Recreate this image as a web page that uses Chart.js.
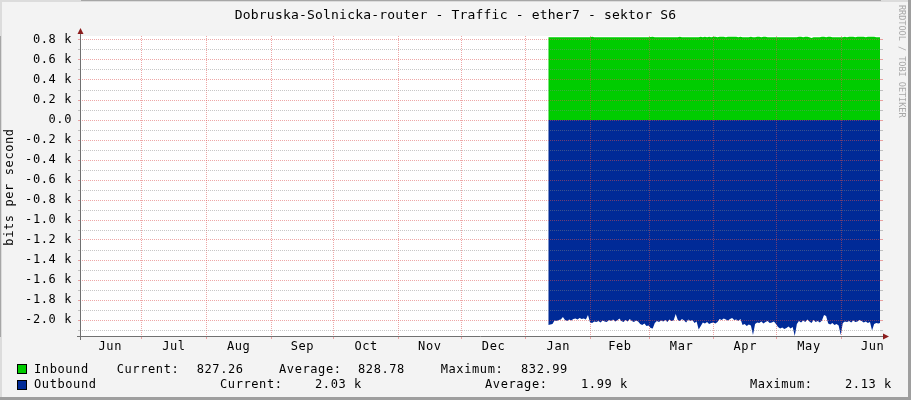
<!DOCTYPE html>
<html>
<head>
<meta charset="utf-8">
<script src="https://cdn.jsdelivr.net/npm/chart.js@4.4.1/dist/chart.umd.min.js"></script>
<style>
html, body { margin: 0; padding: 0; background: #f3f3f3; }
#wrap { width: 911px; height: 400px; position: relative; }
</style>
</head>
<body>
<div id="wrap"><canvas id="trafficChart"></canvas></div>
<script>
// month labels along the x axis, and where each month starts (days after Jun 2)
var monthLabels = ['Jun', 'Jul', 'Aug', 'Sep', 'Oct', 'Nov', 'Dec', 'Jan', 'Feb', 'Mar', 'Apr', 'May', 'Jun'];
var monthStarts = [-1, 29, 60, 91, 121, 152, 182, 213, 244, 272, 303, 333, 364];
var monthDays = [30, 31, 31, 30, 31, 30, 31, 31, 28, 31, 30, 31, 30];

// y axis ticks (bits per second)
var yTickValues = [-2000, -1800, -1600, -1400, -1200, -1000, -800, -600, -400, -200, 0, 200, 400, 600, 800];
var yTickLabels = ['-2.0 k', '-1.8 k', '-1.6 k', '-1.4 k', '-1.2 k', '-1.0 k', '-0.8 k', '-0.6 k', '-0.4 k', '-0.2 k', '0.0', '0.2 k', '0.4 k', '0.6 k', '0.8 k'];

// first sample (Jan 12), one sample per day
var sampleStartDay = 223.7;

var inbound = [
  828, 827, 828, 827, 828, 828, 827, 828, 827, 828,
  828, 827, 828, 827, 828, 828, 827, 828, 827, 828,
  828, 833, 828, 827, 828, 828, 827, 828, 827, 828,
  828, 827, 828, 827, 828, 828, 827, 828, 827, 828,
  828, 827, 828, 827, 828, 828, 827, 828, 827, 829,
  833, 827, 828, 827, 828, 828, 827, 828, 827, 828,
  828, 827, 828, 833, 828, 828, 827, 828, 827, 828,
  828, 827, 828, 833, 828, 833, 827, 833, 828, 833,
  833, 828, 833, 833, 833, 828, 833, 833, 833, 833,
  833, 828, 833, 827, 828, 828, 827, 833, 827, 828,
  833, 833, 828, 833, 833, 828, 827, 828, 827, 828,
  828, 827, 828, 827, 828, 828, 827, 828, 827, 828,
  833, 833, 828, 833, 833, 828, 820, 828, 827, 828,
  828, 833, 833, 828, 833, 833, 828, 828, 827, 828,
  828, 827, 833, 828, 833, 833, 833, 828, 833, 833,
  833, 833, 828, 833, 833, 833, 833, 828, 827, 827
];

var outbound = [
  2050, 2045, 2040, 2005, 2010, 2000, 1995, 1970, 2000, 2010,
  1995, 2005, 1990, 1985, 1995, 1980, 1990, 1985, 1995, 1950,
  2025, 2030, 2015, 2020, 2010, 2025, 2005, 2015, 2020, 2000,
  2010, 1995, 2015, 2005, 1985, 2010, 2020, 2000, 2015, 1990,
  2010, 2020, 2005, 2015, 2040, 2050, 2035, 2060, 2055, 2080,
  2085, 2030, 2010, 2020, 2005, 2015, 2000, 2020, 1995, 2010,
  2005, 1940, 2000, 2010, 1990, 2005, 2025, 1995, 2010, 2000,
  2030, 2015, 2095, 2060, 2025, 2035, 2020, 2040, 2030, 2025,
  2035, 2020, 1990, 2000, 1985, 1995, 2005, 1990, 1980, 2000,
  1995, 2010, 1990, 2050, 2040, 2060, 2045, 2055, 2150, 2040,
  2025, 2030, 2015, 2035, 2020, 2010, 2030, 2025, 2015, 2040,
  2070, 2085, 2075, 2090, 2080, 2065, 2085, 2070, 2160, 2040,
  2010, 2025, 2005, 2020, 1995, 2015, 2030, 2000, 2020, 2010,
  2025, 2005, 1950, 1960, 2035, 2045, 2030, 2050, 2040, 2055,
  2150, 2030, 2015, 2020, 2010, 2025, 2005, 2020, 2015, 2000,
  2010, 2025, 2015, 2030, 2020, 2105, 2040, 2030, 2035, 2030
];

var seriesNames = ['Inbound', 'Outbound'];
var statCurrent = ['827.26', '2.03 k'];
var statAverage = ['828.78', '1.99 k'];
var statMaximum = ['832.99', '2.13 k'];

var titleText = 'Dobruska-Solnicka-router - Traffic - ether7 - sektor S6';
var yTitle = 'bits per second';
var watermark = 'RRDTOOL / TOBI OETIKER';

var MONO = "'DejaVu Sans Mono', 'Liberation Mono', monospace";
var inColor = '#00cc00';
var outColor = '#002a97';
var majorGrid = 'rgba(222, 80, 80, 0.5)';
var minorGrid = 'rgba(130, 130, 130, 0.45)';

var labelPos = monthStarts.map(function (s, i) { return s + monthDays[i] / 2; });
var gridPos = monthStarts.slice(1);

function yAllTicks() {
  var t = [];
  yTickValues.forEach(function (v) { t.push(v); if (v < 800) t.push(v + 100); });
  t.unshift(-2100);
  return t.map(function (v) { return { value: v }; });
}

var rrdFrame = {
  id: 'rrdFrame',
  beforeDraw: function (chart) {
    var c = chart.ctx, a = chart.chartArea, w = chart.width, h = chart.height;
    c.save();
    c.fillStyle = '#f3f3f3';
    c.fillRect(0, 0, w, h);
    c.fillStyle = '#dcdcdc';
    c.fillRect(0, 0, w, 2);
    c.fillRect(0, 0, 2, h);
    c.fillStyle = '#9e9e9e';
    c.fillRect(0, h - 3, w, 3);
    c.fillRect(w - 3, 0, 3, h);
    c.fillStyle = '#ffffff';
    c.fillRect(a.left, a.top, a.right - a.left, a.bottom - a.top);
    c.restore();
    c.letterSpacing = '0.6px';
  },
  afterDraw: function (chart) {
    var c = chart.ctx, a = chart.chartArea;
    c.save();
    c.fillStyle = '#000';
    c.font = '13px ' + MONO;
    c.letterSpacing = '0.2px';
    c.textBaseline = 'alphabetic';
    c.textAlign = 'center';
    c.fillText(titleText, 455.5, 19);
    c.letterSpacing = '0.6px';
    c.font = '12px ' + MONO;

    // axis extensions and arrows
    c.strokeStyle = '#707070';
    c.lineWidth = 1;
    c.beginPath();
    c.moveTo(a.left - 0.5, a.top - 5);
    c.lineTo(a.left - 0.5, a.bottom + 4);
    c.moveTo(a.left - 4, a.bottom + 0.5);
    c.lineTo(a.right + 4, a.bottom + 0.5);
    c.stroke();
    c.fillStyle = '#8b1c1c';
    c.beginPath();
    c.moveTo(a.left - 0.5, a.top - 8);
    c.lineTo(a.left - 3.5, a.top - 2);
    c.lineTo(a.left + 2.5, a.top - 2);
    c.closePath();
    c.fill();
    c.beginPath();
    c.moveTo(a.right + 9, a.bottom + 0.5);
    c.lineTo(a.right + 3, a.bottom - 2.5);
    c.lineTo(a.right + 3, a.bottom + 3.5);
    c.closePath();
    c.fill();

    // y axis title
    c.fillStyle = '#000';
    c.save();
    c.translate(13, 187);
    c.rotate(-Math.PI / 2);
    c.textAlign = 'center';
    c.fillText(yTitle, 0, 0);
    c.restore();

    // watermark
    c.save();
    c.fillStyle = '#a8a8a8';
    c.font = '8.5px ' + MONO;
    c.letterSpacing = '0px';
    c.translate(899, 5);
    c.rotate(Math.PI / 2);
    c.textAlign = 'left';
    c.fillText(watermark, 0, 0);
    c.restore();

    // legend
    var rows = [
      { y: 373, box: 364, cols: [116.7, 196.7, 279, 358, 440.7, 521], color: inColor },
      { y: 388, box: 380, cols: [220, 315, 485, 581, 750, 845], color: outColor }
    ];
    c.textAlign = 'left';
    rows.forEach(function (r, i) {
      c.fillStyle = r.color;
      c.fillRect(17, r.box, 10, 10);
      c.strokeStyle = '#000';
      c.strokeRect(17.5, r.box + 0.5, 9, 9);
      c.fillStyle = '#000';
      c.fillText(seriesNames[i], 34, r.y);
      c.fillText('Current:', r.cols[0], r.y);
      c.fillText(statCurrent[i], r.cols[1], r.y);
      c.fillText('Average:', r.cols[2], r.y);
      c.fillText(statAverage[i], r.cols[3], r.y);
      c.fillText('Maximum:', r.cols[4], r.y);
      c.fillText(statMaximum[i], r.cols[5], r.y);
    });
    c.restore();
  }
};

Chart.defaults.font.family = MONO;
Chart.defaults.font.size = 12;
Chart.defaults.color = '#000';

var ctx = document.getElementById('trafficChart').getContext('2d');
var trafficChart = new Chart(ctx, {
  type: 'line',
  data: {
    datasets: [{
      label: seriesNames[0],
      data: inbound.map(function (v, i) { return { x: sampleStartDay + i, y: v }; }),
      backgroundColor: inColor,
      borderWidth: 0,
      pointRadius: 0,
      fill: 'origin',
      yAxisID: 'y'
    }, {
      label: seriesNames[1],
      data: outbound.map(function (v, i) { return { x: sampleStartDay + i, y: -v }; }),
      backgroundColor: outColor,
      borderWidth: 0,
      pointRadius: 0,
      fill: 'origin',
      yAxisID: 'y'
    }]
  },
  options: {
    responsive: true,
    maintainAspectRatio: false,
    animation: false,
    layout: { padding: { left: 0, right: 0, top: 36, bottom: 44 } },
    plugins: {
      legend: { display: false },
      title: { display: false },
      tooltip: { enabled: false }
    },
    scales: {
      x: {
        type: 'linear',
        min: 0,
        max: 382.5,
        afterBuildTicks: function (scale) {
          var t = gridPos.concat(labelPos).sort(function (p, q) { return p - q; });
          scale.ticks = t.map(function (v) { return { value: v }; });
        },
        afterFit: function (scale) { scale.height = 20; },
        ticks: {
          autoSkip: false,
          maxRotation: 0,
          minRotation: 0,
          padding: 1,
          callback: function (value) {
            var k = labelPos.indexOf(value);
            return k >= 0 ? monthLabels[k] : '';
          }
        },
        grid: {
          z: 1,
          tickLength: 3,
          color: function (c) {
            return c.tick && gridPos.indexOf(c.tick.value) >= 0 ? majorGrid : 'rgba(0,0,0,0)';
          }
        },
        border: { color: '#707070', dash: [1, 1] }
      },
      y: {
        type: 'linear',
        position: 'left',
        min: -2160,
        max: 840,
        afterBuildTicks: function (scale) { scale.ticks = yAllTicks(); },
        afterFit: function (scale) { scale.width = 81; },
        ticks: {
          autoSkip: false,
          padding: 6,
          callback: function (value) {
            var k = yTickValues.indexOf(value);
            return k >= 0 ? yTickLabels[k] : '';
          }
        },
        grid: {
          z: 1,
          tickLength: 3,
          color: function (c) {
            return c.tick && yTickValues.indexOf(c.tick.value) >= 0 ? majorGrid : minorGrid;
          }
        },
        border: { color: '#707070', dash: [1, 1] }
      },
      y2: {
        type: 'linear',
        position: 'right',
        min: -2160,
        max: 840,
        afterBuildTicks: function (scale) { scale.ticks = yAllTicks(); },
        afterFit: function (scale) { scale.width = 31; },
        ticks: { display: false },
        grid: {
          drawOnChartArea: false,
          tickLength: 3,
          color: function (c) {
            return c.tick && yTickValues.indexOf(c.tick.value) >= 0 ? majorGrid : minorGrid;
          }
        },
        border: { display: false }
      }
    }
  },
  plugins: [rrdFrame]
});
</script>
</body>
</html>
